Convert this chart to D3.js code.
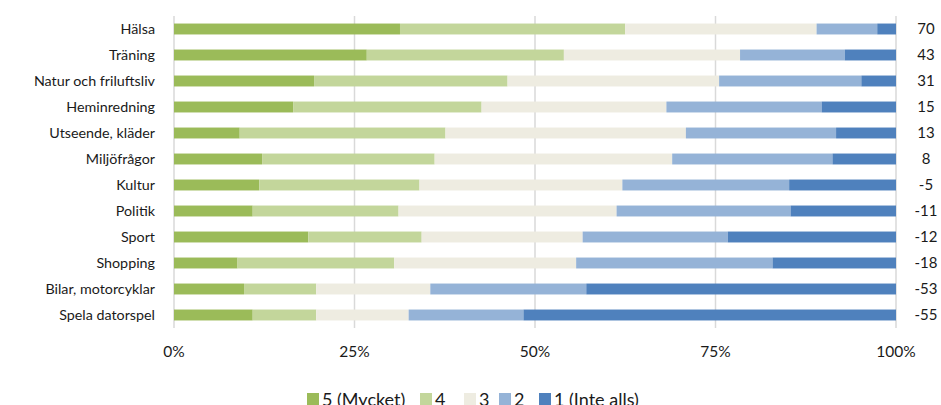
<!DOCTYPE html>
<html>
<head>
<meta charset="utf-8">
<script src="https://cdn.jsdelivr.net/npm/d3@7"></script>
<style>
  body { margin: 0; background: #fff; }
  text { font-family: Lato, sans-serif; fill: #1a1a1a; }
</style>
</head>
<body>
<div id="chart"></div>
<script>
// categories (top to bottom)
const categories = ['Hälsa', 'Träning', 'Natur och friluftsliv', 'Heminredning', 'Utseende, kläder',
    'Miljöfrågor', 'Kultur', 'Politik', 'Sport', 'Shopping', 'Bilar, motorcyklar', 'Spela datorspel']
// net values on the right
const netValues = [70, 43, 31, 15, 13, 8, -5, -11, -12, -18, -53, -55]
// shares in percent per answer
const s5 = [31.3, 26.7, 19.4, 16.5, 9.1, 12.2, 11.8, 10.9, 18.6, 8.8, 9.7, 10.9]
const s4 = [31.2, 27.3, 26.8, 26.1, 28.5, 23.9, 22.2, 20.2, 15.7, 21.7, 10.0, 8.8]
const s3 = [26.5, 24.4, 29.3, 25.6, 33.3, 32.9, 28.1, 30.2, 22.3, 25.2, 15.8, 12.8]
const s2 = [8.4, 14.5, 19.7, 21.5, 20.8, 22.2, 23.1, 24.1, 20.1, 27.2, 21.6, 15.9]
const s1 = [2.6, 7.1, 4.8, 10.3, 8.3, 8.8, 14.8, 14.6, 23.3, 17.1, 42.9, 51.6]
const seriesNames = ['5 (Mycket)', '4', '3', '2', '1 (Inte alls)']
const tickLabels = ['0%', '25%', '50%', '75%', '100%']

const colors = ['#9BBB59', '#C3D69B', '#EEECE1', '#95B3D7', '#4F81BD']

const W = 941, H = 405
const margin = { top: 16, right: 45, bottom: 78, left: 174 }

const svg = d3.select('#chart').append('svg')
    .attr('width', W)
    .attr('height', H)

const x = d3.scaleLinear().domain([0, 100]).range([margin.left, 896])
const y = d3.scaleBand().domain(categories).range([margin.top, 328]).paddingInner(0.58).paddingOuter(0.29)

// rows for the stack
const rows = categories.map((c, i) => ({ cat: c, k0: s5[i], k1: s4[i], k2: s3[i], k3: s2[i], k4: s1[i] }))
const stack = d3.stack().keys(['k0', 'k1', 'k2', 'k3', 'k4'])(rows)

// gridlines
svg.append('g')
    .selectAll('line')
    .data([0, 25, 50, 75, 100])
    .enter()
    .append('line')
    .attr('x1', d => x(d)).attr('x2', d => x(d))
    .attr('y1', margin.top).attr('y2', 328)
    .attr('stroke', '#D9D9D9')
    .attr('stroke-width', 1.5)

svg.append('g')
    .selectAll('g')
    .data(stack)
    .enter()
    .append('g')
    .attr('fill', (d, i) => colors[i])
    .selectAll('rect')
    .data(d => d)
    .enter()
    .append('rect')
    .attr('x', d => x(d[0]))
    .attr('width', d => x(d[1]) - x(d[0]))
    .attr('y', d => y(d.data.cat))
    .attr('height', y.bandwidth())

// category labels
svg.append('g')
    .selectAll('text')
    .data(categories)
    .enter()
    .append('text')
    .attr('x', 155)
    .attr('y', d => y(d) + y.bandwidth() / 2)
    .attr('dy', '0.35em')
    .attr('text-anchor', 'end')
    .style('font-size', '14.3px')
    .text(d => d)

// net values
svg.append('g')
    .selectAll('text')
    .data(netValues)
    .enter()
    .append('text')
    .attr('x', 926)
    .attr('y', (d, i) => y(categories[i]) + y.bandwidth() / 2)
    .attr('dy', '0.35em')
    .attr('text-anchor', 'middle')
    .style('font-size', '15px')
    .text(d => d)

// x tick labels
svg.append('g')
    .selectAll('text')
    .data([0, 25, 50, 75, 100])
    .enter()
    .append('text')
    .attr('x', d => x(d))
    .attr('y', 352)
    .attr('dy', '0.35em')
    .attr('text-anchor', 'middle')
    .style('font-size', '15.5px')
    .text((d, i) => tickLabels[i])

// legend (cut at the bottom edge, as in the original)
const legendX = [307, 420, 464, 499, 539]
const lg = svg.append('g')
    .selectAll('g')
    .data(seriesNames)
    .enter()
    .append('g')
    .attr('transform', (d, i) => 'translate(' + legendX[i] + ',0)')
lg.append('rect')
    .attr('x', 0).attr('y', 393)
    .attr('width', 12).attr('height', 12)
    .attr('fill', (d, i) => colors[i])
lg.append('text')
    .attr('x', 15)
    .attr('y', 406)
    .style('font-size', '18px')
    .text(d => d)
</script>
</body>
</html>
